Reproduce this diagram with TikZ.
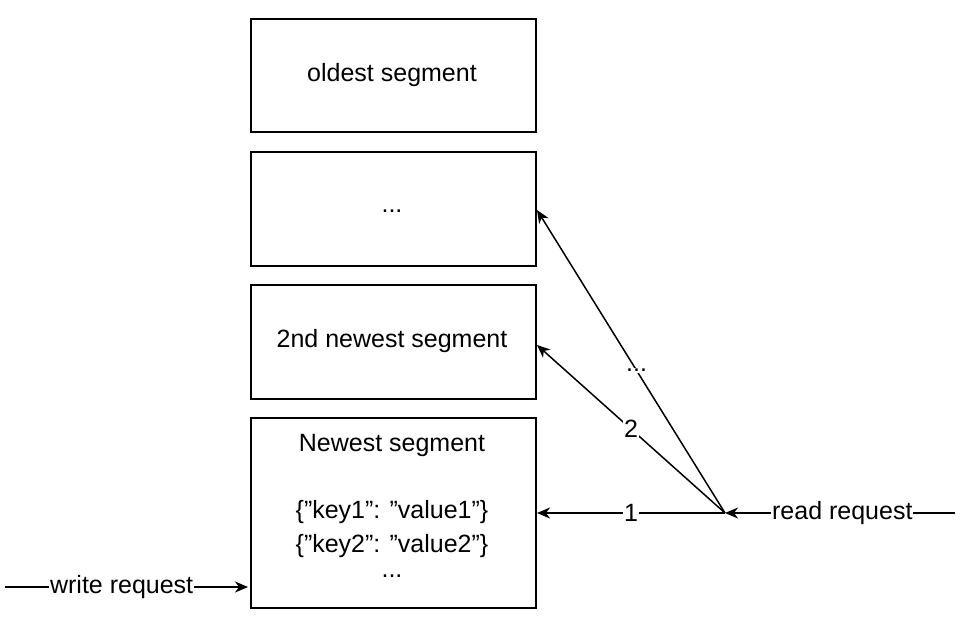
\documentclass[tikz,border=0pt]{standalone}
\usepackage{fontspec}
\setmainfont{Liberation Sans}
\usetikzlibrary{arrows.meta}
\begin{document}
\begin{tikzpicture}[x=1pt,y=-1pt,
  seg/.style={draw,line width=1.5pt,minimum width=285pt,anchor=north west,inner sep=0},
  txt/.style={font=\fontsize{25}{30}\selectfont},
  lbl/.style={fill=white,inner sep=1pt,font=\fontsize{25}{30}\selectfont},
  arr/.style={line width=1.5pt,-{Stealth[length=13pt,width=11pt,inset=4pt]}}]
\useasboundingbox (0,0) rectangle (960,630);
\node[seg,minimum height=113pt] (s1) at (250,18) {};
\node[seg,minimum height=114pt] (s2) at (250,151) {};
\node[seg,minimum height=114pt] (s3) at (250,284) {};
\node[seg,minimum height=190pt] (s4) at (250,417) {};
\node[txt] (t1) at (392,75) {oldest segment};
\node[txt] (t2) at (392,211) {...};
\node[txt] (t3) at (392,341) {2nd newest segment};
\node[txt] (t4) at (392,445) {Newest segment};
\node[txt] (t5) at (392,512) {\{"key1": "value1"\}};
\node[txt] (t6) at (392,546) {\{"key2": "value2"\}};
\node[txt] (t7) at (392,576) {...};
\coordinate (j) at (725,513);
\coordinate (r) at (955,513);
\coordinate (w) at (5,587);
\coordinate (e1) at (537,513);
\coordinate (e2) at (537,345);
\coordinate (e3) at (537,210);
\coordinate (e4) at (248,587);
\draw[arr] (r) -- node[lbl,pos=0.49]{read request} (j);
\draw[arr] (j) -- node[lbl]{1} (e1);
\draw[arr] (j) -- node[lbl]{2} (e2);
\draw[arr] (j) -- node[lbl,pos=0.47]{...} (e3);
\draw[arr] (w) -- node[lbl,pos=0.48]{write request} (e4);
\end{tikzpicture}
\end{document}
